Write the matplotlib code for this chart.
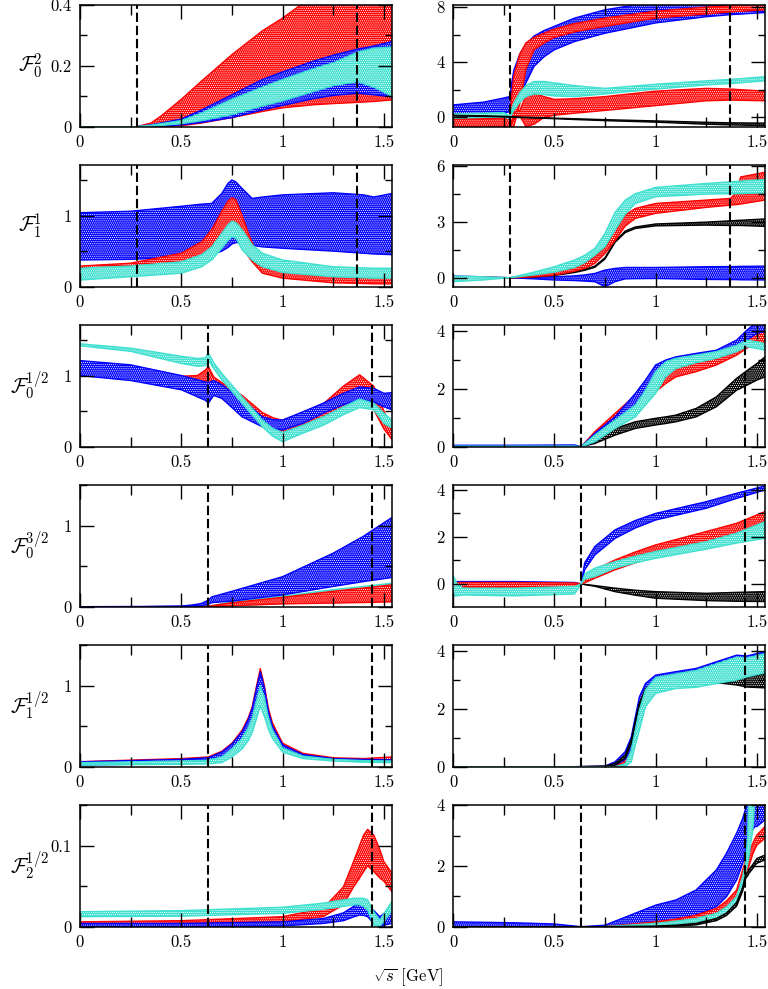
import matplotlib
matplotlib.use("Agg")
import matplotlib.pyplot as plt
from matplotlib.ticker import MultipleLocator, FuncFormatter

plt.rcParams["font.family"] = "serif"
plt.rcParams["font.serif"] = ["cmr10"]
plt.rcParams["mathtext.fontset"] = "cm"
plt.rcParams["axes.formatter.use_mathtext"] = True
plt.rcParams["hatch.linewidth"] = 0.5

RED = "#ff0000"
BLUE = "#0000ff"
TURQ = "#40e0d0"
BLACK = "#000000"

# ---------------- row 1, left: F_0^2 ----------------
a_x = [0, 0.279, 0.35, 0.4, 0.5, 0.6, 0.75, 0.9, 1.0, 1.15, 1.25, 1.37, 1.45, 1.54]
a_red_lo = [0, 0, 0, 0, 0.003, 0.012, 0.03, 0.05, 0.062, 0.072, 0.076, 0.08, 0.083, 0.088]
a_red_hi = [0, 0, 0.012, 0.035, 0.09, 0.15, 0.237, 0.315, 0.357, 0.43, 0.47, 0.53, 0.57, 0.61]
a_blue_lo = [0, 0, 0.001, 0.002, 0.006, 0.014, 0.03, 0.055, 0.07, 0.092, 0.103, 0.11, 0.105, 0.098]
a_blue_hi = [0, 0, 0.006, 0.012, 0.025, 0.055, 0.105, 0.155, 0.18, 0.215, 0.235, 0.255, 0.265, 0.28]
a_turq_lo = [0, 0, 0.002, 0.004, 0.01, 0.02, 0.04, 0.068, 0.085, 0.115, 0.135, 0.148, 0.13, 0.1]
a_turq_hi = [0, 0, 0.005, 0.01, 0.02, 0.045, 0.09, 0.13, 0.155, 0.19, 0.21, 0.245, 0.258, 0.262]

# ---------------- row 1, right ----------------
b_x = [0, 0.15, 0.25, 0.279, 0.3, 0.33, 0.36, 0.4, 0.45, 0.5, 0.6, 0.75, 1.0, 1.25, 1.37, 1.54]
b_blue_lo = [0.1, 0.15, 0.3, 0.4, 0.8, 1.5, 2.5, 3.7, 4.4, 4.9, 5.5, 6.1, 6.85, 7.3, 7.45, 7.6]
b_blue_hi = [0.9, 1.1, 1.4, 1.5, 3.4, 4.6, 5.3, 5.9, 6.3, 6.6, 7.2, 7.8, 8.4, 8.7, 8.8, 8.9]
b_red1_lo = [-0.67, -0.67, -0.67, -0.67, -0.67, 1.0, 3.5, 4.9, 5.4, 5.8, 6.2, 6.6, 7.2, 7.5, 7.65, 7.8]
b_red1_hi = [-0.15, -0.12, -0.1, 0.0, 3.0, 4.6, 5.4, 5.8, 6.1, 6.4, 6.8, 7.2, 7.7, 8.0, 8.1, 8.17]
b_red2_lo = [-0.67, -0.67, -0.67, -0.67, 0.0, 0.1, -0.67, -0.5, 0.0, 0.15, 0.3, 0.5, 0.85, 1.2, 1.25, 1.2]
b_red2_hi = [-0.12, -0.1, -0.05, 0.0, 0.35, 0.5, 1.6, 1.75, 1.5, 1.3, 1.35, 1.5, 1.9, 2.1, 2.05, 1.9]
b_turq_lo = [-0.07, 0.0, 0.02, -0.1, 0.5, 1.1, 1.5, 1.7, 1.65, 1.55, 1.5, 1.7, 2.05, 2.35, 2.45, 2.65]
b_turq_hi = [0.24, 0.3, 0.35, 0.1, 1.0, 1.8, 2.3, 2.6, 2.6, 2.5, 2.3, 2.1, 2.4, 2.65, 2.75, 2.95]
b_black_lo = [0.1, 0.07, 0.03, 0.01, 0.0, -0.02, -0.03, -0.05, -0.07, -0.1, -0.16, -0.24, -0.35, -0.5, -0.55, -0.6]
b_black_hi = [0.14, 0.11, 0.07, 0.05, 0.04, 0.02, 0.01, -0.01, -0.03, -0.06, -0.1, -0.17, -0.26, -0.36, -0.4, -0.42]

# ---------------- row 2, left: F_1^1 ----------------
c_x = [0, 0.25, 0.5, 0.6, 0.65, 0.7, 0.73, 0.75, 0.77, 0.8, 0.85, 0.9, 1.0, 1.25, 1.4, 1.45, 1.54]
c_blue_lo = [0.375, 0.385, 0.41, 0.43, 0.45, 0.5, 0.55, 0.6, 0.62, 0.62, 0.58, 0.56, 0.54, 0.5, 0.47, 0.46, 0.45]
c_blue_hi = [1.04, 1.06, 1.13, 1.16, 1.17, 1.31, 1.45, 1.5, 1.47, 1.38, 1.24, 1.26, 1.29, 1.32, 1.29, 1.26, 1.31]
c_red_lo = [0.2, 0.22, 0.3, 0.4, 0.5, 0.62, 0.7, 0.73, 0.7, 0.55, 0.35, 0.19, 0.12, 0.055, 0.045, 0.04, 0.04]
c_red_hi = [0.29, 0.33, 0.47, 0.63, 0.8, 1.06, 1.2, 1.25, 1.22, 1.0, 0.61, 0.375, 0.3, 0.23, 0.2, 0.18, 0.14]
c_turq_lo = [0.094, 0.14, 0.19, 0.28, 0.375, 0.54, 0.65, 0.7, 0.68, 0.52, 0.375, 0.28, 0.2, 0.14, 0.125, 0.12, 0.12]
c_turq_hi = [0.26, 0.29, 0.35, 0.45, 0.56, 0.75, 0.87, 0.92, 0.9, 0.8, 0.59, 0.47, 0.375, 0.28, 0.265, 0.26, 0.26]

# ---------------- row 2, right ----------------
d_x = [0, 0.15, 0.279, 0.4, 0.5, 0.6, 0.65, 0.7, 0.75, 0.8, 0.85, 0.9, 1.0, 1.25, 1.37, 1.4, 1.42, 1.54]
d_blue_lo = [-0.09, -0.05, 0.0, -0.06, -0.12, -0.15, -0.18, -0.21, -0.48, -0.21, -0.06, -0.05, -0.04, -0.09, -0.1, -0.1, -0.11, -0.12]
d_blue_hi = [0.09, 0.05, 0.0, 0.03, 0.05, 0.1, 0.15, 0.23, 0.41, 0.5, 0.55, 0.55, 0.55, 0.59, 0.6, 0.6, 0.61, 0.62]
d_black_lo = [0, 0, 0.0, 0.04, 0.12, 0.28, 0.4, 0.56, 1.0, 1.9, 2.42, 2.64, 2.78, 2.82, 2.8, 2.8, 2.8, 2.75]
d_black_hi = [0, 0, 0.0, 0.07, 0.16, 0.33, 0.45, 0.62, 1.07, 1.97, 2.5, 2.72, 2.88, 2.98, 3.05, 3.07, 3.08, 3.15]
d_red_lo = [-0.05, -0.03, 0.0, 0.05, 0.14, 0.35, 0.5, 0.77, 1.3, 2.0, 2.77, 3.18, 3.45, 3.77, 3.89, 3.92, 3.95, 4.16]
d_red_hi = [0.05, 0.03, 0.0, 0.15, 0.32, 0.6, 0.8, 1.12, 1.66, 2.55, 3.36, 3.71, 3.98, 4.16, 4.25, 4.6, 5.4, 5.65]
d_turq_lo = [-0.21, -0.12, 0.0, 0.15, 0.3, 0.55, 0.8, 1.2, 1.66, 2.55, 3.4, 3.98, 4.34, 4.48, 4.5, 4.5, 4.51, 4.55]
d_turq_hi = [0.09, 0.05, 0.0, 0.3, 0.59, 0.95, 1.2, 1.57, 2.37, 3.5, 4.16, 4.5, 4.84, 5.05, 5.14, 5.16, 5.18, 5.27]

# ---------------- row 3, left: F_0^{1/2} ----------------
e_x = [0, 0.25, 0.5, 0.58, 0.62, 0.633, 0.66, 0.7, 0.8, 0.9, 0.95, 1.0, 1.1, 1.2, 1.3, 1.38, 1.45, 1.5, 1.54]
e_red_lo = [1.02, 0.95, 0.85, 0.78, 0.72, 0.68, 0.74, 0.68, 0.45, 0.3, 0.23, 0.2, 0.3, 0.4, 0.5, 0.57, 0.52, 0.25, 0.1]
e_red_hi = [1.18, 1.12, 0.99, 1.0, 1.08, 1.13, 0.98, 0.9, 0.72, 0.48, 0.41, 0.37, 0.45, 0.6, 0.85, 1.01, 0.85, 0.5, 0.25]
e_blue_lo = [1.0, 0.93, 0.8, 0.7, 0.65, 0.61, 0.72, 0.68, 0.42, 0.28, 0.25, 0.235, 0.33, 0.47, 0.59, 0.66, 0.63, 0.56, 0.52]
e_blue_hi = [1.21, 1.15, 1.0, 0.94, 0.91, 0.9, 0.93, 0.87, 0.66, 0.42, 0.38, 0.375, 0.49, 0.61, 0.75, 0.84, 0.82, 0.75, 0.76]
e_turq_lo = [1.418, 1.34, 1.17, 1.13, 1.14, 1.22, 1.1, 0.94, 0.61, 0.28, 0.15, 0.07, 0.19, 0.3, 0.45, 0.55, 0.52, 0.33, 0.26]
e_turq_hi = [1.446, 1.385, 1.27, 1.24, 1.25, 1.32, 1.18, 1.03, 0.7, 0.375, 0.26, 0.2, 0.3, 0.42, 0.56, 0.67, 0.61, 0.47, 0.375]

# ---------------- row 3, right ----------------
f_x = [0, 0.3, 0.6, 0.633, 0.7, 0.8, 0.9, 0.95, 1.0, 1.05, 1.1, 1.2, 1.3, 1.4, 1.45, 1.5, 1.54]
f_black_lo = [0, 0, 0, 0.0, 0.11, 0.4, 0.63, 0.69, 0.75, 0.8, 0.86, 1.03, 1.38, 1.95, 2.12, 2.3, 2.41]
f_black_hi = [0, 0, 0, 0.0, 0.29, 0.63, 0.86, 0.92, 0.98, 1.03, 1.09, 1.32, 1.72, 2.36, 2.62, 2.87, 3.1]
f_red_lo = [0, 0, 0, 0.0, 0.23, 0.75, 1.26, 1.55, 1.9, 2.18, 2.41, 2.59, 2.82, 3.16, 3.4, 3.56, 3.62]
f_red_hi = [0.02, 0.02, 0.02, 0.0, 0.52, 1.15, 1.78, 2.07, 2.36, 2.7, 2.93, 3.05, 3.22, 3.45, 3.8, 4.02, 4.3]
f_blue_lo = [0, 0, 0, 0.0, 0.17, 0.69, 1.44, 1.95, 2.53, 2.76, 2.87, 2.99, 3.13, 3.39, 3.68, 3.91, 3.97]
f_blue_hi = [0.05, 0.05, 0.06, 0.0, 0.46, 1.03, 1.84, 2.3, 2.82, 2.99, 3.1, 3.22, 3.33, 3.68, 4.02, 4.3, 4.4]
f_turq_lo = [0, 0, 0, 0.0, 0.17, 0.63, 1.03, 1.44, 1.84, 2.41, 2.7, 2.9, 3.05, 3.28, 3.45, 3.39, 3.33]
f_turq_hi = [0.02, 0.02, 0.02, 0.0, 0.4, 0.92, 1.44, 1.95, 2.59, 2.93, 3.05, 3.16, 3.28, 3.5, 3.68, 3.62, 3.56]

# ---------------- row 4, left: F_0^{3/2} ----------------
g_x = [0, 0.3, 0.5, 0.55, 0.6, 0.633, 0.65, 0.75, 1.0, 1.25, 1.4, 1.54]
g_turq_lo = [0, 0, 0, 0, 0, 0, 0.002, 0.01, 0.04, 0.05, 0.06, 0.07]
g_turq_hi = [0, 0, 0.002, 0.004, 0.006, 0.01, 0.015, 0.06, 0.13, 0.21, 0.25, 0.29]
g_red_lo = [0, 0, 0, 0, 0, 0, 0.002, 0.012, 0.035, 0.045, 0.052, 0.06]
g_red_hi = [0, 0.001, 0.002, 0.003, 0.005, 0.008, 0.012, 0.05, 0.115, 0.19, 0.23, 0.27]
g_blue_lo = [0, 0, 0.002, 0.005, 0.012, 0.03, 0.05, 0.07, 0.145, 0.25, 0.31, 0.36]
g_blue_hi = [0, 0.002, 0.008, 0.02, 0.04, 0.08, 0.12, 0.19, 0.37, 0.66, 0.87, 1.1]

# ---------------- row 4, right ----------------
h_x = [0, 0.02, 0.05, 0.3, 0.6, 0.633, 0.65, 0.7, 0.8, 0.9, 1.0, 1.25, 1.4, 1.54]
h_black_lo = [0, 0, 0, 0, 0, 0.0, -0.03, -0.1, -0.33, -0.48, -0.61, -0.71, -0.74, -0.75]
h_black_hi = [0, 0, 0, 0, 0, 0.0, -0.02, -0.07, -0.18, -0.27, -0.33, -0.4, -0.36, -0.33]
h_blue_lo = [-0.04, -0.04, -0.04, -0.04, -0.03, 0.0, 0.6, 1.23, 1.94, 2.38, 2.72, 3.22, 3.64, 4.0]
h_blue_hi = [0.1, 0.1, 0.1, 0.1, 0.06, 0.0, 0.9, 1.59, 2.3, 2.7, 3.0, 3.5, 3.86, 4.17]
h_red_lo = [-0.14, -0.14, -0.14, -0.14, -0.12, 0.0, 0.05, 0.24, 0.6, 0.9, 1.16, 1.66, 1.94, 2.37]
h_red_hi = [0.06, 0.06, 0.06, 0.06, 0.04, 0.0, 0.25, 0.6, 1.02, 1.36, 1.66, 2.23, 2.58, 3.08]
h_turq_lo = [-0.51, -0.51, -0.47, -0.51, -0.43, 0.0, 0.2, 0.31, 0.67, 0.9, 1.09, 1.48, 1.74, 1.94]
h_turq_hi = [0.38, 0.0, -0.18, -0.18, -0.11, 0.0, 0.42, 0.67, 0.95, 1.18, 1.38, 1.8, 2.16, 2.65]

# ---------------- row 5, left: F_1^{1/2} ----------------
i_x = [0, 0.5, 0.633, 0.7, 0.75, 0.8, 0.83, 0.85, 0.87, 0.89, 0.91, 0.93, 0.95, 1.0, 1.1, 1.25, 1.4, 1.54]
i_red_lo = [0.03, 0.05, 0.06, 0.1, 0.17, 0.3, 0.4, 0.5, 0.65, 0.8, 0.7, 0.52, 0.4, 0.22, 0.12, 0.08, 0.07, 0.07]
i_red_hi = [0.062, 0.1, 0.12, 0.19, 0.29, 0.45, 0.6, 0.74, 0.98, 1.21, 1.0, 0.72, 0.54, 0.29, 0.165, 0.11, 0.1, 0.12]
i_blue_lo = [0.02, 0.04, 0.05, 0.09, 0.16, 0.28, 0.38, 0.48, 0.62, 0.82, 0.7, 0.5, 0.38, 0.2, 0.11, 0.08, 0.065, 0.06]
i_blue_hi = [0.06, 0.09, 0.11, 0.18, 0.28, 0.43, 0.58, 0.72, 0.95, 1.17, 0.97, 0.68, 0.5, 0.27, 0.15, 0.1, 0.09, 0.085]
i_turq_lo = [0.02, 0.03, 0.035, 0.05, 0.12, 0.22, 0.32, 0.42, 0.58, 0.75, 0.62, 0.46, 0.35, 0.18, 0.1, 0.07, 0.055, 0.05]
i_turq_hi = [0.05, 0.07, 0.08, 0.12, 0.22, 0.35, 0.48, 0.6, 0.8, 1.0, 0.85, 0.6, 0.45, 0.23, 0.13, 0.09, 0.075, 0.07]

# ---------------- row 5, right ----------------
j_x = [0, 0.6, 0.75, 0.8, 0.85, 0.88, 0.9, 0.92, 0.95, 1.0, 1.1, 1.2, 1.3, 1.4, 1.45, 1.54]
j_red_lo = [0, 0, 0.0, 0.02, 0.15, 0.45, 0.9, 1.5, 2.2, 2.6, 2.75, 2.8, 2.9, 3.0, 3.1, 3.2]
j_red_hi = [0, 0, 0.01, 0.12, 0.45, 0.95, 1.6, 2.3, 2.75, 3.05, 3.15, 3.3, 3.45, 3.6, 3.65, 3.8]
j_blue_lo = [0, 0, 0.0, 0.05, 0.25, 0.6, 1.1, 1.7, 2.3, 2.65, 2.75, 2.8, 2.9, 3.0, 3.1, 3.22]
j_blue_hi = [0, 0, 0.02, 0.17, 0.52, 1.03, 1.72, 2.41, 2.87, 3.16, 3.28, 3.39, 3.62, 3.85, 3.82, 3.97]
j_black_lo = [0, 0, 0.0, 0.05, 0.3, 0.8, 1.5, 2.1, 2.6, 2.78, 2.84, 2.88, 2.9, 2.82, 2.75, 2.72]
j_black_hi = [0, 0, 0.02, 0.11, 0.4, 0.92, 1.61, 2.2, 2.7, 2.87, 2.93, 2.97, 3.0, 3.05, 3.1, 3.22]
j_turq_lo = [0, 0, 0.0, 0.0, 0.0, 0.17, 0.75, 1.26, 2.07, 2.53, 2.7, 2.74, 2.87, 2.99, 3.1, 3.24]
j_turq_hi = [0, 0, 0.0, 0.0, 0.1, 0.57, 1.26, 1.95, 2.65, 3.08, 3.2, 3.32, 3.55, 3.78, 3.75, 3.9]

# ---------------- row 6, left: F_2^{1/2} ----------------
k_x = [0, 0.5, 1.0, 1.2, 1.3, 1.35, 1.38, 1.4, 1.42, 1.45, 1.48, 1.5, 1.54]
k_red_lo = [0.003, 0.004, 0.006, 0.0123, 0.027, 0.049, 0.06, 0.068, 0.075, 0.068, 0.06, 0.056, 0.043]
k_red_hi = [0.006, 0.0074, 0.0123, 0.0226, 0.049, 0.08, 0.1, 0.113, 0.12, 0.113, 0.095, 0.08, 0.066]
k_blue_lo = [0.0, 0.0, 0.001, 0.004, 0.0074, 0.012, 0.0144, 0.014, 0.0123, 0.004, 0.0, 0.002, 0.004]
k_blue_hi = [0.004, 0.004, 0.006, 0.01, 0.017, 0.025, 0.029, 0.028, 0.025, 0.02, 0.0123, 0.016, 0.027]
k_turq_lo = [0.0123, 0.013, 0.0165, 0.0214, 0.025, 0.027, 0.027, 0.025, 0.02, 0.002, 0.001, 0.006, 0.02]
k_turq_hi = [0.0185, 0.0198, 0.024, 0.029, 0.033, 0.035, 0.035, 0.035, 0.033, 0.0185, 0.008, 0.016, 0.031]

# ---------------- row 6, right ----------------
l_x = [0, 0.3, 0.5, 0.633, 0.75, 1.0, 1.1, 1.2, 1.3, 1.35, 1.4, 1.43, 1.445, 1.455, 1.46, 1.48, 1.49, 1.5, 1.54]
l_blue_lo = [0, 0, 0, 0, 0, 0.11, 0.22, 0.38, 0.66, 0.99, 1.54, 2.09, 2.5, 2.7, 2.9, 3.2, 3.3, 3.3, 3.52]
l_blue_hi = [0.16, 0.13, 0.09, 0.0, 0.05, 0.71, 0.88, 1.21, 1.87, 2.42, 3.08, 3.57, 3.9, 4.2, 4.4, 4.8, 5.0, 5.0, 5.0]
l_red_lo = [0, 0, 0, 0, 0, 0.05, 0.12, 0.22, 0.38, 0.6, 0.88, 1.43, 1.75, 1.9, 1.98, 2.4, 2.55, 2.69, 2.91]
l_red_hi = [0, 0, 0, 0, 0.0, 0.16, 0.25, 0.38, 0.6, 0.85, 1.21, 1.87, 2.2, 2.35, 2.45, 2.75, 2.9, 3.02, 3.3]
l_turq_lo = [0, 0, 0, 0, 0, 0.02, 0.08, 0.16, 0.27, 0.45, 0.71, 1.32, 1.8, 2.1, 2.3, 3.2, 4.2, 6.0, 7.0]
l_turq_hi = [0, 0, 0, 0, 0, 0.11, 0.18, 0.27, 0.44, 0.65, 0.99, 1.65, 2.15, 3.0, 4.5, 6.0, 6.0, 7.0, 8.0]
l_black_lo = [0, 0, 0, 0, 0, 0.0, 0.02, 0.06, 0.2, 0.37, 0.68, 1.18, 1.6, 1.68, 1.75, 1.92, 2.02, 2.09, 2.2]
l_black_hi = [0, 0, 0, 0, 0, 0.02, 0.05, 0.11, 0.27, 0.45, 0.8, 1.3, 1.75, 1.8, 1.88, 2.05, 2.15, 2.25, 2.36]

ylabels = [r"$\mathcal{F}_0^{2}$", r"$\mathcal{F}_1^{1}$", r"$\mathcal{F}_0^{1/2}$",
           r"$\mathcal{F}_0^{3/2}$", r"$\mathcal{F}_1^{1/2}$", r"$\mathcal{F}_2^{1/2}$"]
pipi_thresholds = [0.279, 1.368]
kpi_thresholds = [0.633, 1.443]


def band(ax, x, lo, hi, color, z):
    # dotted fill in the band colour, with solid edges of the same colour
    ax.fill_between(x, lo, hi, facecolor=color, edgecolor="white",
                    hatch="........", linewidth=0, zorder=z)
    ax.plot(x, lo, color=color, lw=1.0, zorder=z)
    ax.plot(x, hi, color=color, lw=1.0, zorder=z)


def draw(ax, x, bands):
    for z, (lo, hi, color) in enumerate(bands):
        band(ax, x, lo, hi, color, 1 + 0.1 * z)


def style(ax, ylim, ymaj, ymin, thresholds):
    ax.set_xlim(0, 1.54)
    ax.set_ylim(*ylim)
    ax.xaxis.set_major_locator(MultipleLocator(0.5))
    ax.xaxis.set_minor_locator(MultipleLocator(0.25))
    ax.yaxis.set_major_locator(MultipleLocator(ymaj))
    ax.yaxis.set_minor_locator(MultipleLocator(ymin))
    fmt = FuncFormatter(lambda v, p: "%g" % round(v, 6))
    ax.xaxis.set_major_formatter(fmt)
    ax.yaxis.set_major_formatter(fmt)
    ax.tick_params(which="both", direction="in", top=True, right=True,
                   width=1.0, labelsize=12)
    ax.tick_params(axis="x", which="major", length=10, pad=6)
    ax.tick_params(axis="x", which="minor", length=7)
    ax.tick_params(axis="y", which="major", length=10, pad=6)
    ax.tick_params(axis="y", which="minor", length=5)
    for s in ax.spines.values():
        s.set_linewidth(1.1)
        s.set_zorder(6)
    for t in thresholds:
        ax.axvline(t, color="black", lw=1.5, dashes=(4.5, 1.8), zorder=5)


fig = plt.figure(figsize=(7.68, 9.89), dpi=100)
W, H = 768.0, 989.0
axes = []
for r in range(6):
    top = 5 + 160 * r
    row = []
    for left in (80, 453):
        ax = fig.add_axes([left / W, 1 - (top + 121.7) / H, 312 / W, 121.7 / H])
        row.append(ax)
    axes.append(row)
    fig.text(30 / W, 1 - (top + 61) / H, ylabels[r], ha="center", va="center",
             fontsize=15)

# row 1
ax = axes[0][0]
draw(ax, a_x, [(a_red_lo, a_red_hi, RED), (a_blue_lo, a_blue_hi, BLUE),
               (a_turq_lo, a_turq_hi, TURQ)])
style(ax, (0, 0.4), 0.2, 0.1, pipi_thresholds)

ax = axes[0][1]
draw(ax, b_x, [(b_blue_lo, b_blue_hi, BLUE), (b_red1_lo, b_red1_hi, RED),
               (b_red2_lo, b_red2_hi, RED), (b_turq_lo, b_turq_hi, TURQ),
               (b_black_lo, b_black_hi, BLACK)])
style(ax, (-0.68, 8.15), 4, 2, pipi_thresholds)

# row 2
ax = axes[1][0]
draw(ax, c_x, [(c_blue_lo, c_blue_hi, BLUE), (c_red_lo, c_red_hi, RED),
               (c_turq_lo, c_turq_hi, TURQ)])
style(ax, (0, 1.71), 1, 0.5, pipi_thresholds)

ax = axes[1][1]
draw(ax, d_x, [(d_blue_lo, d_blue_hi, BLUE), (d_black_lo, d_black_hi, BLACK),
               (d_red_lo, d_red_hi, RED), (d_turq_lo, d_turq_hi, TURQ)])
style(ax, (-0.48, 6.04), 3, 1.5, pipi_thresholds)

# row 3
ax = axes[2][0]
draw(ax, e_x, [(e_red_lo, e_red_hi, RED), (e_blue_lo, e_blue_hi, BLUE),
               (e_turq_lo, e_turq_hi, TURQ)])
style(ax, (0, 1.71), 1, 0.5, kpi_thresholds)

ax = axes[2][1]
draw(ax, f_x, [(f_black_lo, f_black_hi, BLACK), (f_red_lo, f_red_hi, RED),
               (f_blue_lo, f_blue_hi, BLUE), (f_turq_lo, f_turq_hi, TURQ)])
style(ax, (0, 4.2), 2, 1, kpi_thresholds)

# row 4
ax = axes[3][0]
draw(ax, g_x, [(g_turq_lo, g_turq_hi, TURQ), (g_red_lo, g_red_hi, RED),
               (g_blue_lo, g_blue_hi, BLUE)])
style(ax, (0, 1.5), 1, 0.5, kpi_thresholds)

ax = axes[3][1]
draw(ax, h_x, [(h_black_lo, h_black_hi, BLACK), (h_blue_lo, h_blue_hi, BLUE),
               (h_red_lo, h_red_hi, RED), (h_turq_lo, h_turq_hi, TURQ)])
style(ax, (-0.97, 4.21), 2, 1, kpi_thresholds)

# row 5
ax = axes[4][0]
draw(ax, i_x, [(i_red_lo, i_red_hi, RED), (i_blue_lo, i_blue_hi, BLUE),
               (i_turq_lo, i_turq_hi, TURQ)])
style(ax, (0, 1.5), 1, 0.5, kpi_thresholds)

ax = axes[4][1]
draw(ax, j_x, [(j_red_lo, j_red_hi, RED), (j_blue_lo, j_blue_hi, BLUE),
               (j_black_lo, j_black_hi, BLACK), (j_turq_lo, j_turq_hi, TURQ)])
style(ax, (0, 4.2), 2, 1, kpi_thresholds)

# row 6
ax = axes[5][0]
draw(ax, k_x, [(k_red_lo, k_red_hi, RED), (k_blue_lo, k_blue_hi, BLUE),
               (k_turq_lo, k_turq_hi, TURQ)])
style(ax, (0, 0.15), 0.1, 0.05, kpi_thresholds)

ax = axes[5][1]
draw(ax, l_x, [(l_blue_lo, l_blue_hi, BLUE), (l_red_lo, l_red_hi, RED),
               (l_turq_lo, l_turq_hi, TURQ), (l_black_lo, l_black_hi, BLACK)])
style(ax, (0, 4.01), 2, 1, kpi_thresholds)

fig.text(408 / W, 1 - 977 / H, r"$\sqrt{s}$ [GeV]", ha="center", va="center",
         fontsize=12)

fig.savefig("out.png", dpi=100)
